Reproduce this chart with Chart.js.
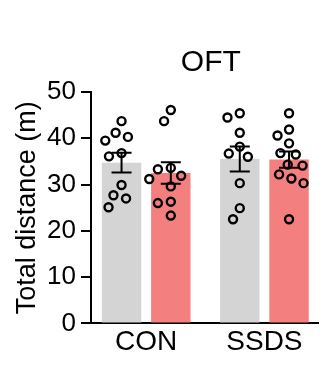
<!DOCTYPE html>
<html>
<head>
<meta charset="utf-8">
<style>
  html, body { margin: 0; padding: 0; background: #fff; }
</style>
</head>
<body>
<canvas id="oft" width="325" height="368"></canvas>
<script src="https://cdn.jsdelivr.net/npm/chart.js"></script>
<script>
  // open field test, total distance per animal (m)
  const groups = ['CON', 'SSDS'];
  const greyCon = [43.7, 41.2, 40.3, 39.5, 36.8, 36.1, 29.9, 27.7, 27.0, 25.1];
  const greySsds = [45.4, 44.5, 41.2, 38.2, 36.7, 36.0, 30.3, 24.9, 22.5];
  const redCon = [46.1, 43.7, 33.6, 33.3, 31.9, 31.2, 29.6, 26.3, 26.0, 23.3];
  const redSsds = [45.4, 41.9, 40.6, 38.9, 36.8, 36.5, 34.3, 34.1, 32.2, 31.3, 30.3, 22.5];
  const yTicks = [0, 10, 20, 30, 40, 50];

  const greySets = [greyCon, greySsds];
  const redSets = [redCon, redSsds];

  const mean = a => a.reduce((s, v) => s + v, 0) / a.length;
  const sem = a => {
    const m = mean(a);
    const sd = Math.sqrt(a.reduce((s, v) => s + (v - m) ** 2, 0) / (a.length - 1));
    return sd / Math.sqrt(a.length);
  };

  Chart.defaults.font.family = '"Liberation Sans", Arial, sans-serif';
  Chart.defaults.color = '#000';

  const SHIFT = 25 / 120; // half a bar slot, in category units

  // mean +/- SEM whiskers on top of each bar
  const errorBars = {
    id: 'errorBars',
    afterDatasetDraw(chart, { index, meta }) {
      const ds = chart.data.datasets[index];
      if (!ds.errors) return;
      const y = chart.scales.y, ctx = chart.ctx;
      ctx.save();
      ctx.strokeStyle = '#000';
      ctx.lineWidth = 2;
      meta.data.forEach((bar, i) => {
        const m = ds.data[i].y, e = ds.errors[i];
        const top = y.getPixelForValue(m + e), bot = y.getPixelForValue(m - e);
        ctx.beginPath();
        ctx.moveTo(bar.x, top); ctx.lineTo(bar.x, bot);
        ctx.moveTo(bar.x - 10, top); ctx.lineTo(bar.x + 10, top);
        ctx.moveTo(bar.x - 10, bot); ctx.lineTo(bar.x + 10, bot);
        ctx.stroke();
      });
      ctx.restore();
    }
  };

  // nudge the title a little right of the plot centre
  const titleNudge = {
    id: 'titleNudge',
    afterLayout(chart) {
      const t = chart.titleBlock;
      if (t) { t.left += 6; t.right += 6; }
    }
  };

  const barSet = (label, sets, color) => ({
    type: 'bar',
    label,
    data: sets.map((s, i) => ({ x: i, y: mean(s) })),
    errors: sets.map(sem),
    backgroundColor: color,
    categoryPercentage: 100 / 120,
    barPercentage: 0.8,
    order: 2
  });

  const dotSet = (label, sets, side) => ({
    type: 'scatter',
    label,
    data: sets.flatMap((s, i) => s.map(v => ({ x: i + side * SHIFT, y: v }))),
    borderColor: '#000',
    backgroundColor: 'rgba(0,0,0,0)',
    pointRadius: 4,
    pointBorderWidth: 2.4,
    order: 0
  });

  const chart = new Chart(document.getElementById('oft'), {
    type: 'bar',
    data: {
      datasets: [
        barSet('grey', greySets, '#d4d4d4'),
        barSet('red', redSets, '#f47f7f'),
        dotSet('grey pts', greySets, -1),
        dotSet('red pts', redSets, 1)
      ]
    },
    options: {
      responsive: false,
      animation: false,
      layout: { padding: { left: 0, right: 3, top: 0, bottom: 7 } },
      plugins: {
        legend: { display: false },
        tooltip: { enabled: false },
        title: {
          display: true,
          text: 'OFT',
          fullSize: false,
          font: { size: 30, weight: 'normal' },
          padding: { top: 45, bottom: 11 }
        }
      },
      scales: {
        x: {
          type: 'linear',
          offset: false,
          min: -0.4667,
          max: 1.4583,
          afterBuildTicks: s => { s.ticks = groups.map((g, i) => ({ value: i })); },
          ticks: { callback: v => groups[v], font: { size: 28 }, padding: 2, autoSkip: false, maxRotation: 0 },
          grid: { display: false, drawTicks: false },
          border: { color: '#000', width: 2 }
        },
        y: {
          min: 0,
          max: 50,
          afterBuildTicks: s => { s.ticks = yTicks.map(v => ({ value: v })); },
          afterFit: s => { s.width = 91; },
          ticks: { font: { size: 26 }, padding: 5 },
          grid: { drawOnChartArea: false, color: '#000', lineWidth: 2, tickLength: 10 },
          border: { color: '#000', width: 2 },
          title: {
            display: true,
            text: 'Total distance (m)',
            font: { size: 27 },
            padding: { top: 11, bottom: 0 }
          }
        }
      }
    },
    plugins: [errorBars, titleNudge]
  });

  // spread the dots of each group sideways so they don't overlap
  function swarm(values, cx) {
    const xs = chart.scales.x, ys = chart.scales.y;
    const D = 13;
    const x0 = xs.getPixelForValue(cx);
    const placed = [];
    return values.map(v => {
      const py = ys.getPixelForValue(v);
      const near = placed.filter(p => Math.abs(p.y - py) < D);
      const cands = [0];
      near.forEach(p => {
        const w = Math.sqrt(D * D - (p.y - py) ** 2);
        cands.push(p.x - w, p.x + w);
      });
      cands.sort((a, b) => Math.abs(a) - Math.abs(b));
      const x = cands.find(c => near.every(p => (c - p.x) ** 2 + (py - p.y) ** 2 >= D * D - 0.01));
      placed.push({ x, y: py });
      return { x: xs.getValueForPixel(x0 + x), y: v };
    });
  }

  chart.data.datasets[2].data = greySets.flatMap((s, i) => swarm(s, i - SHIFT));
  chart.data.datasets[3].data = redSets.flatMap((s, i) => swarm(s, i + SHIFT));
  chart.update('none');
</script>
</body>
</html>
